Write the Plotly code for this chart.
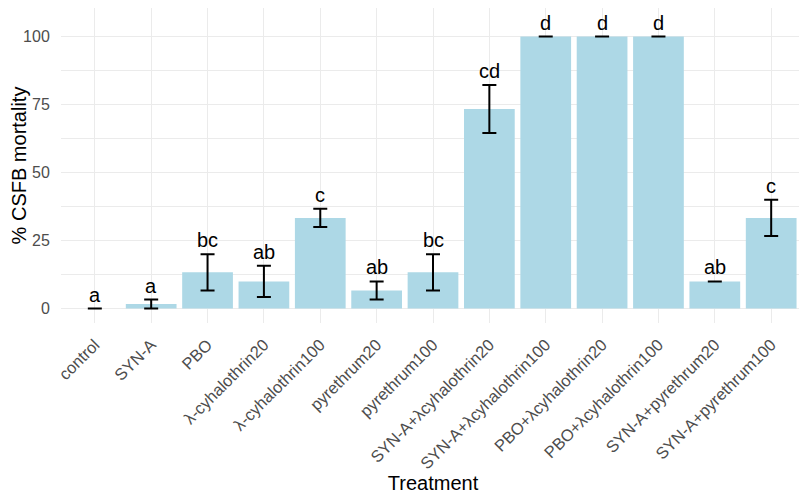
import plotly.graph_objects as go

treatments = ["control", "SYN-A", "PBO", "λ-cyhalothrin20", "λ-cyhalothrin100",
              "pyrethrum20", "pyrethrum100", "SYN-A+λcyhalothrin20",
              "SYN-A+λcyhalothrin100", "PBO+λcyhalothrin20", "PBO+λcyhalothrin100",
              "SYN-A+pyrethrum20", "SYN-A+pyrethrum100"]
mortality = [0, 1.67, 13.33, 10, 33.33, 6.67, 13.33, 73.33, 100, 100, 100, 10, 33.33]
se = [0, 1.67, 6.67, 5.77, 3.33, 3.33, 6.67, 8.82, 0, 0, 0, 0, 6.67]
letters = ["a", "a", "bc", "ab", "c", "ab", "bc", "cd", "d", "d", "d", "ab", "c"]

fig = go.Figure()
fig.add_trace(go.Bar(
    x=treatments, y=mortality, width=0.9,
    marker=dict(color="#ADD8E6", line=dict(width=0)),
    error_y=dict(type="data", array=se, visible=True, color="black",
                 thickness=2, width=7),
))
for t, m, s, l in zip(treatments, mortality, se, letters):
    fig.add_annotation(x=t, y=m + s, text=l, showarrow=False, yanchor="bottom",
                       yshift=1, font=dict(size=20, color="black"))

# page body has an 8px margin, so the figure is offset by 8px
fig.update_layout(
    width=799, height=487,
    margin=dict(l=53, r=2, t=0, b=172),
    plot_bgcolor="white", paper_bgcolor="white",
    font=dict(family="Liberation Sans, Arial, sans-serif"),
    showlegend=False,
    bargap=0.1,
)
fig.update_xaxes(
    range=[-0.6, 12.6], tickangle=-45, automargin=False,
    showgrid=True, gridcolor="#EBEBEB", gridwidth=1.2,
    tickfont=dict(size=16.5, color="#4D4D4D"), ticklabelstandoff=8,
    title=dict(text="Treatment", font=dict(size=20, color="black"), standoff=4),
    zeroline=False, showline=False, ticks="",
)
fig.update_yaxes(
    range=[-5.3, 110.5], tickvals=[0, 25, 50, 75, 100], automargin=False,
    showgrid=True, gridcolor="#EBEBEB", gridwidth=1.2,
    minor=dict(tickvals=[12.5, 37.5, 62.5, 87.5], showgrid=True, gridcolor="#EBEBEB", gridwidth=0.6),
    tickfont=dict(size=16, color="#4D4D4D"),
    ticks="outside", ticklen=7, tickcolor="rgba(0,0,0,0)",
    title=dict(text="% CSFB mortality", font=dict(size=20, color="black"), standoff=2),
    zeroline=False, showline=False,
)
fig.write_html("out.html")
